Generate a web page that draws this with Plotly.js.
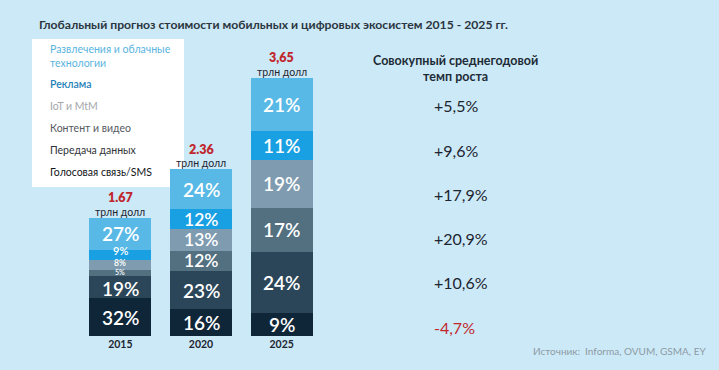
<!DOCTYPE html>
<html>
<head>
<meta charset="utf-8">
<script src="https://cdn.plot.ly/plotly-3.0.1.min.js"></script>
<style>html,body{margin:0;padding:0;background:#cce9f7;}#chart{width:719px;height:370px;}</style>
</head>
<body>
<div id="chart"></div>
<script>
// ---- data ----
const years = ['2015', '2020', '2025'];
const totals = [1.67, 2.36, 3.65];
const totalLabels = ['1.67', '2.36', '3,65'];
// segments listed bottom -> top
const segmentNames = ['Голосовая связь/SMS', 'Передача данных', 'Контент и видео', 'IoT и MtM', 'Реклама', 'Развлечения и облачные технологии'];
const voiceSms   = [32, 16, 9];
const dataTx     = [19, 23, 24];
const content    = [5, 12, 17];
const iot        = [8, 13, 19];
const ads        = [9, 12, 11];
const entertain  = [27, 24, 21];
const cagrLabels = ['+5,5%', '+9,6%', '+17,9%', '+20,9%', '+10,6%', '-4,7%']; // top -> bottom
const legendLabels = ['Развлечения и облачные<br>технологии', 'Реклама', 'IoT и MtM', 'Контент и видео', 'Передача данных', 'Голосовая связь/SMS'];

// ---- styles ----
const segColors = ['#0f2538', '#2b4658', '#52707f', '#7e9bb0', '#18a0e2', '#58b9e6'];
const legendColors = ['#5ab4e0', '#1f82b8', '#a3a7aa', '#555a5e', '#2f3438', '#111418'];
const labelSizes = [[19, 19, 7, 8.5, 11, 19], [19, 19, 17.5, 17.5, 17.5, 19], [19, 19, 19, 19, 19, 19]];
const labelShift = [[0, -1.5, 1, 2.5, 5, 0], [0, 0, 0, 0, 0, 0], [0, 0, 0, 0, 0, 0]];
const FONT = 'Lato, "Open Sans", sans-serif';

const series = [voiceSms, dataTx, content, iot, ads, entertain];
const sums = years.map((_, i) => series.reduce((s, a) => s + a[i], 0));

const traces = series.map((arr, k) => ({
  type: 'bar',
  name: segmentNames[k],
  x: years,
  y: arr.map((p, i) => totals[i] * p / sums[i]),
  marker: {color: segColors[k], line: {width: 0}},
  hoverinfo: 'skip'
}));

// geometry helpers (margins -> paper coords)
const M = {l: 80, r: 397, t: 53, b: 34};
const W = 719, H = 370;
const pw = W - M.l - M.r, ph = H - M.t - M.b;
const px = x => (x - M.l) / pw;
const py = y => (H - M.b - y) / ph;

const annotations = [];
// segment labels (x given as category index)
years.forEach((yr, i) => {
  let cum = 0;
  series.forEach((arr, k) => {
    const v = totals[i] * arr[i] / sums[i];
    annotations.push({x: i, y: cum + v / 2, xref: 'x', yref: 'y', text: arr[i] + '%', showarrow: false,
      yshift: labelShift[i][k], borderpad: 0,
      font: {family: FONT, size: labelSizes[i][k], color: '#ffffff', weight: 600}, yanchor: 'middle'});
    cum += v;
  });
  annotations.push({x: i, y: totals[i], xref: 'x', yref: 'y', text: totalLabels[i], showarrow: false, borderpad: 0,
    yanchor: 'middle', yshift: 20, font: {family: FONT, size: 12.5, color: '#c0272d', weight: 800}});
  annotations.push({x: i, y: totals[i], xref: 'x', yref: 'y', text: 'трлн долл', showarrow: false, borderpad: 0,
    yanchor: 'middle', yshift: 6, font: {family: FONT, size: 10.5, color: '#1d2530'}});
});
// legend text
const legendY = [56, 84, 106, 128, 150, 172];
legendLabels.forEach((t, k) => {
  annotations.push({x: px(48), y: py(legendY[k]), xref: 'paper', yref: 'paper', text: t, showarrow: false,
    xanchor: 'left', yanchor: 'middle', align: 'left',
    font: {family: FONT, size: 10.5, color: legendColors[k], weight: k === 1 ? 600 : 400}});
});
// CAGR header & values
annotations.push({x: px(455), y: py(68), xref: 'paper', yref: 'paper', showarrow: false,
  text: 'Совокупный среднегодовой<br>темп роста', align: 'center', xanchor: 'center', yanchor: 'middle',
  font: {family: FONT, size: 12.5, color: '#1d2b36', weight: 700}});
const cagrY = [105, 150, 194, 238, 282, 327];
cagrLabels.forEach((t, k) => {
  annotations.push({x: px(432), y: py(cagrY[k]), xref: 'paper', yref: 'paper', text: t, showarrow: false,
    xanchor: 'left', yanchor: 'middle',
    font: {family: FONT, size: 16, color: t.startsWith('-') ? '#c0272d' : '#1d2530'}});
});
// title & source
annotations.push({x: px(37), y: py(25), xref: 'paper', yref: 'paper', showarrow: false, xanchor: 'left', yanchor: 'middle',
  text: 'Глобальный прогноз стоимости мобильных и цифровых экосистем 2015 - 2025 гг.',
  font: {family: FONT, size: 12.2, color: '#2b3640', weight: 700}});
annotations.push({x: px(708), y: py(351), xref: 'paper', yref: 'paper', showarrow: false, xanchor: 'right', yanchor: 'middle',
  text: 'Источник:  Informa, OVUM, GSMA, EY', font: {family: FONT, size: 10, color: '#8d9ba5'}});

const layout = {
  width: W, height: H,
  margin: M,
  paper_bgcolor: '#cce9f7',
  plot_bgcolor: 'rgba(0,0,0,0)',
  barmode: 'stack',
  bargap: 0.23,
  showlegend: false,
  xaxis: {type: 'category', range: [-0.5, 2.5], showgrid: false, zeroline: false, showline: false, ticks: '',
    tickfont: {family: FONT, size: 10.5, color: '#1d2530', weight: 700}, fixedrange: true},
  yaxis: {range: [0, 4], visible: false, fixedrange: true},
  shapes: [{type: 'rect', xref: 'paper', yref: 'paper', x0: px(32), x1: px(184), y0: py(187), y1: py(39),
    fillcolor: '#ffffff', line: {width: 0}, layer: 'below'}],
  annotations: annotations
};

Plotly.newPlot('chart', traces, layout, {displayModeBar: false, staticPlot: true});
</script>
</body>
</html>
